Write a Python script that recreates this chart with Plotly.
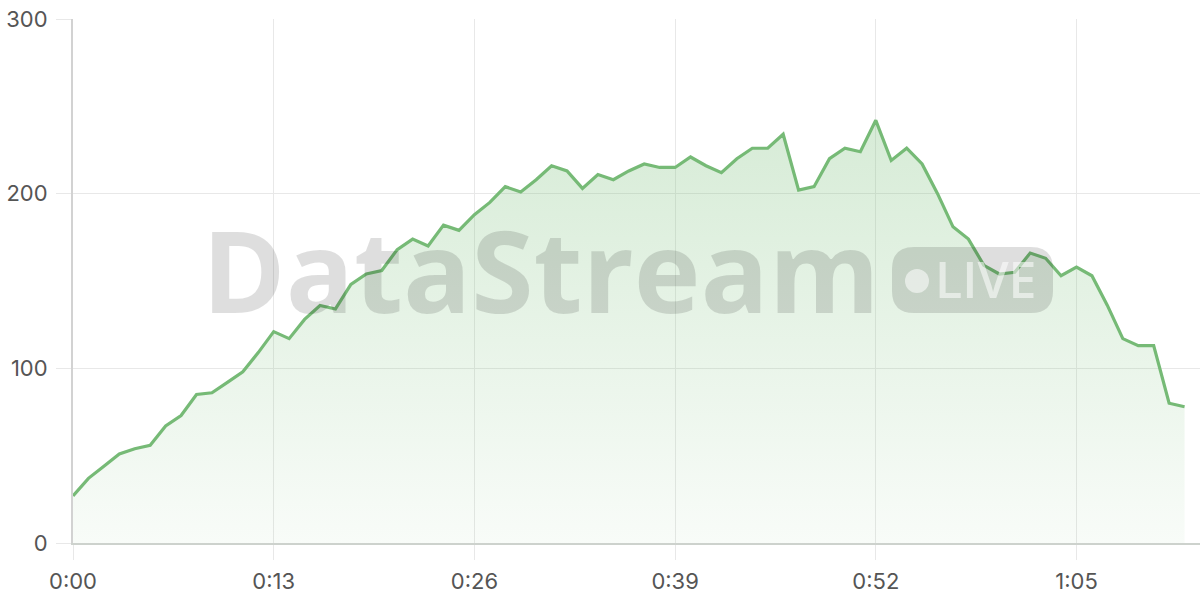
import plotly.graph_objects as go

seconds = list(range(73))
values = [27, 37, 44, 51, 54, 56, 67, 73, 85, 86, 92, 98, 109, 121, 117, 128, 136, 134,
          148, 154, 156, 168, 174, 170, 182, 179, 188, 195, 204, 201, 208, 216, 213, 203,
          211, 208, 213, 217, 215, 215, 221, 216, 212, 220, 226, 226, 234, 202, 204, 220,
          226, 224, 242, 219, 226, 217, 200, 181, 174, 159, 154, 155, 166, 163, 153, 158,
          153, 136, 117, 113, 113, 80, 78]
x_tick_vals = [0, 13, 26, 39, 52, 65]
x_tick_text = ["0:00", "0:13", "0:26", "0:39", "0:52", "1:05"]
y_tick_vals = [0, 100, 200, 300]

W, H = 1200, 600
ML, MR, MT, MB = 73, 0, 19, 57
PW, PH = W - ML - MR, H - MT - MB


def px(x):
    return (x - ML) / PW


def py(y):
    return (H - MB - y) / PH


fig = go.Figure()
fig.add_trace(go.Scatter(
    x=seconds, y=values, mode="lines",
    line=dict(color="#76ba76", width=3.2),
    fill="tozeroy",
    fillgradient=dict(type="vertical",
                      colorscale=[[0, "rgba(120,190,120,0.05)"], [1, "rgba(120,190,120,0.30)"]],
                      start=0, stop=max(values)),
    hoverinfo="skip", showlegend=False,
))

# Watermark
fig.add_annotation(text="<b>DataStream</b>", xref="paper", yref="paper",
                   x=px(541), y=py(269), xanchor="center", yanchor="middle",
                   showarrow=False,
                   font=dict(family="Open Sans", size=113, color="rgba(0,0,0,0.13)"))

# LIVE badge (rounded rectangle)
bx0, bx1, by0, by1, r = 892, 1053, 247, 313, 22
path = (f"M {px(bx0 + r)},{py(by0)} L {px(bx1 - r)},{py(by0)} "
        f"Q {px(bx1)},{py(by0)} {px(bx1)},{py(by0 + r)} "
        f"L {px(bx1)},{py(by1 - r)} Q {px(bx1)},{py(by1)} {px(bx1 - r)},{py(by1)} "
        f"L {px(bx0 + r)},{py(by1)} Q {px(bx0)},{py(by1)} {px(bx0)},{py(by1 - r)} "
        f"L {px(bx0)},{py(by0 + r)} Q {px(bx0)},{py(by0)} {px(bx0 + r)},{py(by0)} Z")
fig.add_shape(type="path", path=path, xref="paper", yref="paper",
              fillcolor="rgba(0,0,0,0.13)", line=dict(width=0), layer="above")
fig.add_shape(type="circle", xref="paper", yref="paper",
              x0=px(905), x1=px(929), y0=py(293), y1=py(269),
              fillcolor="rgba(255,255,255,0.55)", line=dict(width=0), layer="above")
fig.add_annotation(text="LIVE", xref="paper", yref="paper",
                   x=px(986), y=py(279), xanchor="center", yanchor="middle",
                   showarrow=False,
                   font=dict(family="Open Sans", size=50, weight=600,
                             color="rgba(255,255,255,0.55)"))

fig.update_layout(
    width=W, height=H,
    margin=dict(l=ML, r=MR, t=MT, b=MB, pad=0),
    paper_bgcolor="white", plot_bgcolor="white",
    font=dict(family="Inter", size=22, color="#555555"),
    xaxis=dict(range=[0, 73], tickvals=x_tick_vals, ticktext=x_tick_text,
               showgrid=True, gridcolor="#e8e8e8", gridwidth=1,
               ticks="outside", ticklen=15, tickcolor="#e8e8e8",
               showline=True, linecolor="#cdd2cd", linewidth=2,
               zeroline=False, ticklabelstandoff=3),
    yaxis=dict(range=[0, 300], tickvals=y_tick_vals,
               showgrid=True, gridcolor="#e8e8e8", gridwidth=1,
               ticks="outside", ticklen=15, tickcolor="#e8e8e8",
               showline=True, linecolor="#d2d2d2", linewidth=2,
               zeroline=False, ticklabelstandoff=4),
)

fig.write_html("out.html", config={"displayModeBar": False},
               post_script="document.body.style.margin='0';document.body.style.padding='0';")
